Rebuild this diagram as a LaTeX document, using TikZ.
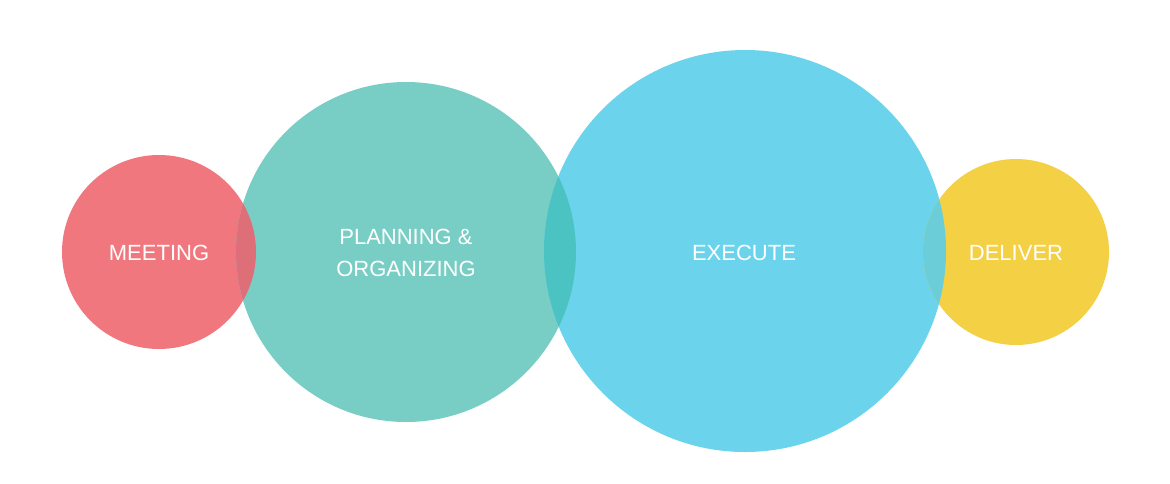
\documentclass[tikz,border=0pt]{standalone}
\usepackage{fontspec}
\setmainfont{Liberation Sans}
\definecolor{cred}{HTML}{F1777E}
\definecolor{cteal}{HTML}{78CEC5}
\definecolor{ccyan}{HTML}{6BD4EC}
\definecolor{cyellow}{HTML}{F4D044}
\definecolor{lensA}{HTML}{DE6F79}
\definecolor{lensB}{HTML}{4CC3C3}
\definecolor{lensC}{HTML}{6ACDD8}
\tikzset{
  label/.style={text=white, font=\fontsize{22}{32}\selectfont, align=center},
}
\begin{document}
\begin{tikzpicture}[x=1pt,y=-1pt]
  \useasboundingbox (0,0) rectangle (1170,483);
  \fill[white] (0,0) rectangle (1170,483);
  % stage circles
  \fill[cred]    (159,252) circle[radius=97];
  \fill[cteal]   (406,252) circle[radius=170];
  \fill[ccyan]   (745,251) circle[radius=201];
  \fill[cyellow] (1016,252) circle[radius=93];
  % overlap lenses
  \begin{scope}
    \clip (159,252) circle[radius=97];
    \fill[lensA] (406,252) circle[radius=170];
  \end{scope}
  \begin{scope}
    \clip (406,252) circle[radius=170];
    \fill[lensB] (745,251) circle[radius=201];
  \end{scope}
  \begin{scope}
    \clip (745,251) circle[radius=201];
    \fill[lensC] (1016,252) circle[radius=93];
  \end{scope}
  % stage labels
  \node[label] (meet) at (159,253) {MEETING};
  \node[label] (plan) at (406,253) {PLANNING \&\\ORGANIZING};
  \node[label] (exec) at (744,253) {EXECUTE};
  \node[label] (deliv) at (1016,253) {DELIVER};
\end{tikzpicture}
\end{document}
